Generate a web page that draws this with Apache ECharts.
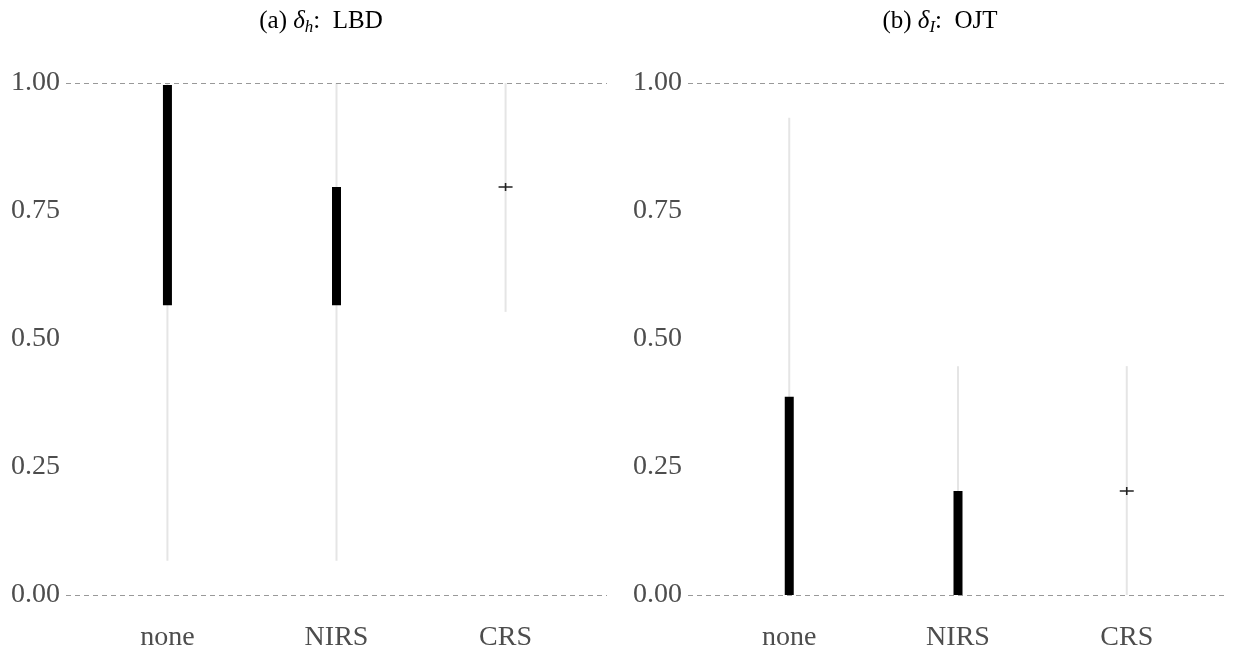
<!DOCTYPE html>
<html>
<head>
<meta charset="utf-8">
<script src="https://cdn.jsdelivr.net/npm/echarts@6/dist/echarts.min.js"></script>
<style>html,body{margin:0;padding:0;background:#fff;}#c{width:1233px;height:654px;}</style>
</head>
<body>
<div id="c"></div>
<script>
// ---- data ----
var categories = ['none', 'NIRS', 'CRS'];
var yTicks = [0, 0.25, 0.5, 0.75, 1];
// (a) LBD
var lbdOuterLo = [0.067, 0.067, 0.553];
var lbdOuterHi = [1.0, 1.0, 1.0];
var lbdInnerLo = [0.566, 0.566];
var lbdInnerHi = [0.996, 0.797];
var lbdPoint = [null, null, 0.797];
// (b) OJT
var ojtOuterLo = [0, 0, 0];
var ojtOuterHi = [0.932, 0.447, 0.447];
var ojtInnerLo = [0, 0];
var ojtInnerHi = [0.387, 0.203];
var ojtPoint = [null, null, 0.203];

var FONT = 'Liberation Serif';

function ranges(lo, hi) {
  return lo.map(function (v, i) { return [i + 1, v, hi[i]]; });
}
function points(p) {
  var out = [];
  p.forEach(function (v, i) { if (v !== null) out.push([i + 1, v]); });
  return out;
}
function lineRender(params, api) {
  var a = api.coord([api.value(0), api.value(1)]);
  var b = api.coord([api.value(0), api.value(2)]);
  return { type: 'line', shape: { x1: a[0], y1: a[1], x2: b[0], y2: b[1] },
    style: { stroke: '#e5e5e5', lineWidth: 2 } };
}
function rectRender(params, api) {
  var a = api.coord([api.value(0), api.value(1)]);
  var b = api.coord([api.value(0), api.value(2)]);
  var w = 9;
  return { type: 'rect', shape: { x: a[0] - w / 2, y: b[1], width: w, height: a[1] - b[1] },
    style: { fill: '#000' } };
}
var plusPath = 'path://M0,3.2H14V4.8H0Z M6.2,0H7.8V8H6.2Z';

function xAxis(gi) {
  return {
    type: 'value', gridIndex: gi, min: 0.4, max: 3.6,
    axisLine: { show: false }, axisTick: { show: false }, splitLine: { show: false },
    axisLabel: {
      customValues: [1, 2, 3], margin: 29,
      formatter: function (v) { return categories[Math.round(v) - 1] || ''; },
      fontFamily: FONT, fontSize: 28, color: '#4d4d4d'
    }
  };
}
function yAxis(gi) {
  return {
    type: 'value', gridIndex: gi, min: 0, max: 1, interval: 0.25,
    axisLine: { show: false }, axisTick: { show: false }, splitLine: { show: false },
    axisLabel: {
      margin: 6,
      formatter: function (v) { return v.toFixed(2); },
      fontFamily: FONT, fontSize: 28, color: '#4d4d4d'
    }
  };
}
function gridLines() {
  return {
    silent: true, symbol: 'none', label: { show: false },
    lineStyle: { type: [5, 4], color: '#999', width: 1 },
    data: yTicks.filter(function (t) { return t === 0 || t === 1; }).map(function (t) { return { yAxis: t }; })
  };
}

var titleRich = {
  it: { fontFamily: FONT, fontSize: 25, fontStyle: 'italic', color: '#000' },
  sub: { fontFamily: FONT, fontSize: 17, fontStyle: 'italic', color: '#000', padding: [12, 0, 0, 0] }
};

var option = {
  backgroundColor: '#fff',
  animation: false,
  title: [
    { text: '(a) {it|δ}{sub|h}:  LBD', left: 316, top: 2, textAlign: 'center',
      textStyle: { fontFamily: FONT, fontSize: 25, fontWeight: 'normal', color: '#000', rich: titleRich } },
    { text: '(b) {it|δ}{sub|I}:  OJT', left: 935, top: 2, textAlign: 'center',
      textStyle: { fontFamily: FONT, fontSize: 25, fontWeight: 'normal', color: '#000', rich: titleRich } }
  ],
  grid: [
    { left: 66, width: 541, top: 83, height: 512 },
    { left: 688, width: 540, top: 83, height: 512 }
  ],
  xAxis: [xAxis(0), xAxis(1)],
  yAxis: [yAxis(0), yAxis(1)],
  series: [
    { type: 'custom', xAxisIndex: 0, yAxisIndex: 0, renderItem: lineRender, data: ranges(lbdOuterLo, lbdOuterHi), markLine: gridLines(), z: 2 },
    { type: 'custom', xAxisIndex: 0, yAxisIndex: 0, renderItem: rectRender, data: ranges(lbdInnerLo, lbdInnerHi), z: 3 },
    { type: 'scatter', xAxisIndex: 0, yAxisIndex: 0, symbol: plusPath, symbolSize: [14, 8], itemStyle: { color: '#222', opacity: 1 }, data: points(lbdPoint), z: 4 },
    { type: 'custom', xAxisIndex: 1, yAxisIndex: 1, renderItem: lineRender, data: ranges(ojtOuterLo, ojtOuterHi), markLine: gridLines(), z: 2 },
    { type: 'custom', xAxisIndex: 1, yAxisIndex: 1, renderItem: rectRender, data: ranges(ojtInnerLo, ojtInnerHi), z: 3 },
    { type: 'scatter', xAxisIndex: 1, yAxisIndex: 1, symbol: plusPath, symbolSize: [14, 8], itemStyle: { color: '#222', opacity: 1 }, data: points(ojtPoint), z: 4 }
  ]
};
var chart = echarts.init(document.getElementById('c'));
chart.setOption(option);
</script>
</body>
</html>
